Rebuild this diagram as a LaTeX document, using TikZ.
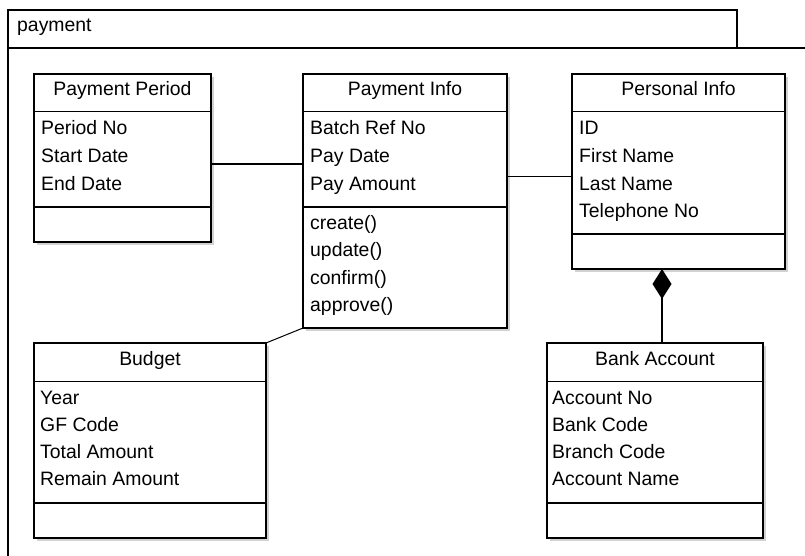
\documentclass[tikz,border=0pt]{standalone}
\usepackage{fontspec}
\setmainfont{Liberation Sans}
\usetikzlibrary{shadows,arrows.meta}

\tikzset{
  classbox/.style={draw, line width=2pt, fill=white, rectangle, inner sep=0pt,
    outer sep=0pt, anchor=north west,
    general shadow={fill=black!18, shadow xshift=3pt, shadow yshift=-3pt}},
  titlesep/.style={line width=1pt},
  partsep/.style={line width=2pt},
  ctitle/.style={anchor=base, inner sep=0pt},
  member/.style={anchor=base west, inner sep=0pt},
  assoc/.style={line width=2pt},
  thinassoc/.style={line width=1pt},
  every node/.append style={font=\fontsize{19.4}{23}\selectfont},
}

\begin{document}
\begin{tikzpicture}[x=1pt, y=-1pt]
\useasboundingbox (0,0) rectangle (805,556);

% package frame with its name tab
\draw[line width=2pt] (8,560) -- (8,10) -- (737,10) -- (737,48);
\draw[line width=1.2pt] (8,48) -- (810,48);
\node[member] (pkg) at (17,32) {payment};

% ---- Payment Period
\node[classbox, minimum width=177pt, minimum height=168pt] (pp) at (34,74) {};
\draw[titlesep] (34,112) -- (211,112);
\draw[partsep] (34,207) -- (211,207);
\node[ctitle] (ppt) at (122.5,96) {Payment Period};
\node[member] (pp1) at (41,135) {Period No};
\node[member] (pp2) at (41,162.5) {Start Date};
\node[member] (pp3) at (41,190) {End Date};

% ---- Payment Info
\node[classbox, minimum width=204pt, minimum height=254pt] (pi) at (303,74) {};
\draw[titlesep] (303,112) -- (507,112);
\draw[partsep] (303,207) -- (507,207);
\node[ctitle] (pit) at (405,96) {Payment Info};
\node[member] (pi1) at (310,135) {Batch Ref No};
\node[member] (pi2) at (310,162.5) {Pay Date};
\node[member] (pi3) at (310,190) {Pay Amount};
\node[member] (pi4) at (310,229) {create()};
\node[member] (pi5) at (310,256.5) {update()};
\node[member] (pi6) at (310,284) {confirm()};
\node[member] (pi7) at (310,311) {approve()};

% ---- Personal Info
\node[classbox, minimum width=213pt, minimum height=195pt] (pe) at (572,74) {};
\draw[titlesep] (572,112) -- (785,112);
\draw[partsep] (572,234) -- (785,234);
\node[ctitle] (pet) at (678.5,96) {Personal Info};
\node[member] (pe1) at (579,135) {ID};
\node[member] (pe2) at (579,162.5) {First Name};
\node[member] (pe3) at (579,190) {Last Name};
\node[member] (pe4) at (579,217) {Telephone No};

% ---- Budget
\node[classbox, minimum width=232pt, minimum height=195pt] (bu) at (34,343) {};
\draw[titlesep] (34,381) -- (266,381);
\draw[partsep] (34,503) -- (266,503);
\node[ctitle] (but) at (150,365) {Budget};
\node[member] (bu1) at (40,404) {Year};
\node[member] (bu2) at (40,431) {GF Code};
\node[member] (bu3) at (40,458) {Total Amount};
\node[member] (bu4) at (40,485) {Remain Amount};

% ---- Bank Account
\node[classbox, minimum width=216pt, minimum height=195pt] (ba) at (547,343) {};
\draw[titlesep] (547,381) -- (763,381);
\draw[partsep] (547,503) -- (763,503);
\node[ctitle] (bat) at (655,365) {Bank Account};
\node[member] (ba1) at (552,404) {Account No};
\node[member] (ba2) at (552,431) {Bank Code};
\node[member] (ba3) at (552,458) {Branch Code};
\node[member] (ba4) at (552,485) {Account Name};

% ---- associations
\coordinate (ly) at (0,164);
\coordinate (ry) at (0,177);
\coordinate (cx) at (662,0);
\draw[assoc] (pp.east |- ly) -- (pi.west |- ly);
\draw[thinassoc] (pi.east |- ry) -- (pe.west |- ry);
\draw[thinassoc] (bu.north east) -- (pi.south west);
\draw[assoc, -{Diamond[length=30pt, width=19pt]}] (ba.north -| cx) -- (pe.south -| cx);
\end{tikzpicture}
\end{document}
